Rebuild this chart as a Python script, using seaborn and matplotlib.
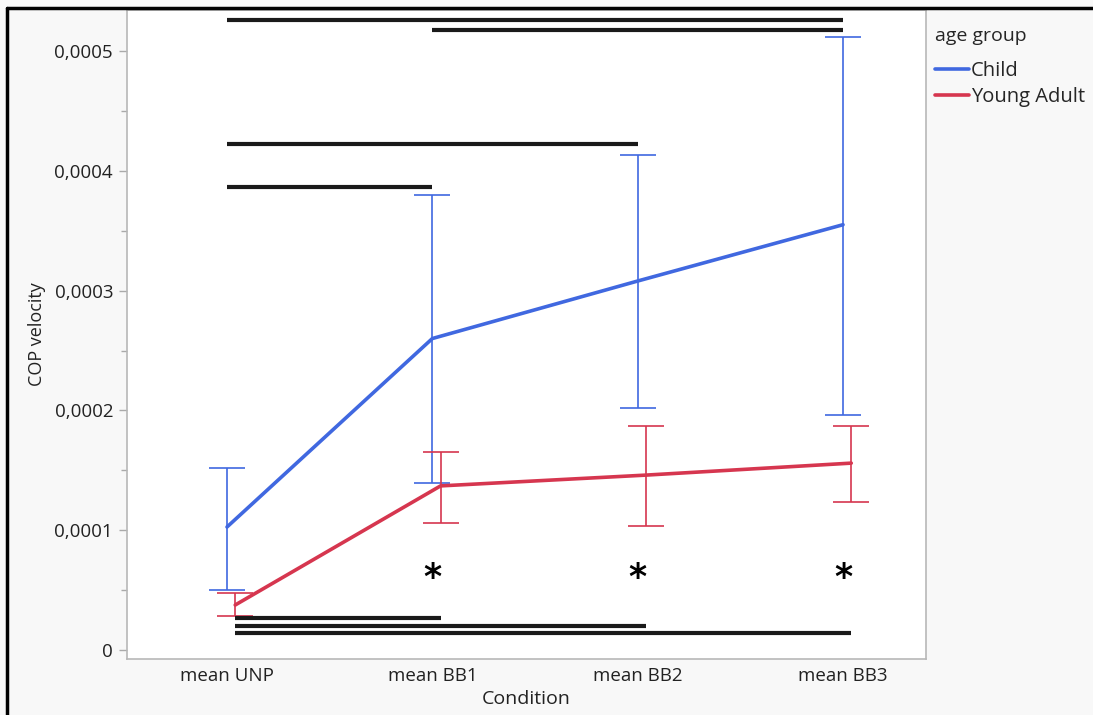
import numpy as np
import pandas as pd
import matplotlib
matplotlib.use("Agg")
import matplotlib.pyplot as plt
import seaborn as sns
from matplotlib.ticker import MultipleLocator, FuncFormatter

conditions = ["mean UNP", "mean BB1", "mean BB2", "mean BB3"]
groups = ["Child", "Young Adult"]

child_mean = [0.0001027, 0.000260, 0.000308, 0.000355]
child_low = [0.0000500, 0.000139, 0.000202, 0.000196]
child_high = [0.0001519, 0.000380, 0.000413, 0.000512]

adult_mean = [0.0000376, 0.000137, 0.000146, 0.000156]
adult_low = [0.0000284, 0.000106, 0.0001035, 0.0001235]
adult_high = [0.0000476, 0.000165, 0.000187, 0.000187]

# significance brackets: (from condition, to condition, height)
top_brackets = [(0, 3, 0.000526), (1, 3, 0.0005175), (0, 2, 0.000422), (0, 1, 0.0003865)]
bottom_brackets = [(0, 1, 0.0000267), (0, 2, 0.0000200), (0, 3, 0.0000142)]
star_conditions = [1, 2, 3]
star_y = 0.0000600

blue = "#4068e0"
red = "#d6364f"
dodge = {"Child": 0.0, "Young Adult": 0.04}

df = pd.DataFrame({
    "cond": conditions * 2,
    "group": ["Child"] * 4 + ["Young Adult"] * 4,
    "mean": child_mean + adult_mean,
    "low": child_low + adult_low,
    "high": child_high + adult_high,
})
df["x"] = df["cond"].map({c: i for i, c in enumerate(conditions)}) + df["group"].map(dodge)

sns.set_style("white")
plt.rcParams["font.family"] = ["Open Sans", "DejaVu Sans"]

fig = plt.figure(figsize=(10.93, 7.15), dpi=100, facecolor="#f8f8f8")
ax = fig.add_axes([0.1162, 0.0783, 0.7310, 0.9077])
ax.set_facecolor("white")

pal = {"Child": blue, "Young Adult": red}
for g in groups:
    d = df[df["group"] == g]
    ax.errorbar(d["x"], d["mean"], yerr=[d["mean"] - d["low"], d["high"] - d["mean"]],
                fmt="none", ecolor=pal[g], elinewidth=1.2, capsize=13, capthick=1.2, zorder=2)

sns.lineplot(data=df, x="x", y="mean", hue="group", palette=pal, linewidth=2.6,
             ax=ax, zorder=3, sort=True)

for a, b, y in top_brackets:
    ax.plot([a, b], [y, y], color="#1a1a1a", lw=3, solid_capstyle="butt", zorder=4)
for a, b, y in bottom_brackets:
    ax.plot([a + dodge["Young Adult"], b + dodge["Young Adult"]], [y, y],
            color="#1a1a1a", lw=3, solid_capstyle="butt", zorder=4)
for c in star_conditions:
    ax.text(c, star_y, "*", ha="center", va="center", fontsize=25,
            fontweight="bold", family="DejaVu Sans", color="black")

ax.set_xlim(-0.487, 3.404)
ax.set_ylim(-0.0000075, 0.0005342)
ax.set_xticks(range(len(conditions)))
ax.set_xticklabels(conditions)
ax.yaxis.set_major_locator(MultipleLocator(0.0001))
ax.yaxis.set_minor_locator(MultipleLocator(0.00005))
ax.yaxis.set_major_formatter(FuncFormatter(
    lambda v, p: "0" if abs(v) < 1e-12 else f"{v:.4f}".replace(".", ",")))
ax.tick_params(axis="y", which="major", direction="out", length=6, width=1,
               color="#aaaaaa", labelsize=13.5, labelcolor="#222222", left=True, pad=4)
ax.tick_params(axis="y", which="minor", direction="out", length=4, width=1,
               color="#aaaaaa", left=True)
ax.tick_params(axis="x", length=0, labelsize=13.5, labelcolor="#222222", pad=6)
for s in ax.spines.values():
    s.set_color("#b8b8b8")
    s.set_linewidth(1.2)

ax.set_xlabel("Condition", fontsize=14, color="#222222", labelpad=3)
ax.set_ylabel("COP velocity", fontsize=13, color="#222222", labelpad=6)

leg = ax.legend(title="age group", loc="upper left",
                bbox_to_anchor=(935 / 1093, 1 - 27 / 715), bbox_transform=fig.transFigure,
                frameon=False, fontsize=14.5, title_fontsize=14,
                handlelength=1.7, handletextpad=0.1, labelspacing=0.3,
                borderpad=0, borderaxespad=0)
leg._legend_box.align = "left"
leg._legend_box.sep = 11.5
for h in leg.get_lines():
    h.set_linewidth(2.6)

# outer frame (top and left)
fig.add_artist(plt.Line2D([0.0064, 1.0], [0.989, 0.989], color="black", lw=2.5,
                          transform=fig.transFigure))
fig.add_artist(plt.Line2D([0.0064, 0.0064], [0.0, 0.989], color="black", lw=2.5,
                          transform=fig.transFigure))

fig.savefig("out.png", dpi=100, facecolor=fig.get_facecolor())
